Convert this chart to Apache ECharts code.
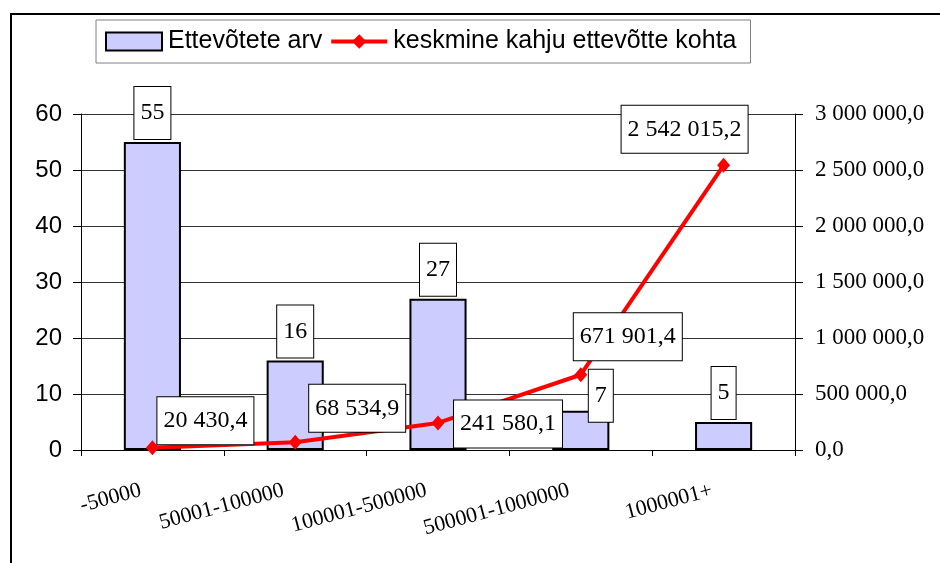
<!DOCTYPE html>
<html>
<head>
<meta charset="utf-8">
<script src="https://cdn.jsdelivr.net/npm/echarts@6/dist/echarts.min.js"></script>
<style>
html,body{margin:0;padding:0;background:#fff;}
#chart{width:940px;height:563px;}
</style>
</head>
<body>
<div id="chart"></div>
<script>
// ---- data ----
var categories = ['-50000', '50001-100000', '100001-500000', '500001-1000000', '1000001+'];
var companyCounts = [55, 16, 27, 7, 5];
var avgDamage = [20430.4, 68534.9, 241580.1, 671901.4, 2542015.2];
var leftTicks = { min: 0, max: 60, interval: 10 };
var rightTicks = { min: 0, max: 3000000, interval: 500000 };
var seriesNames = ['Ettevõtete arv', 'keskmine kahju ettevõtte kohta'];

// ---- styles (label placement offsets) ----
var lineLabelOffsets = [[53, -27], [62, -34], [70, 1], [47, -38], [-39, -36]];
var barLabelOffsets = [[0, 0], [0, 0], [0, 0], [20, 14], [0, 0]];

var SERIF = "'Liberation Serif', 'Times New Roman', serif";
var SANS = "'Liberation Sans', Arial, sans-serif";

function fmtNum(v) {
  var s = Number(v).toFixed(1);
  var parts = s.split('.');
  var intPart = parts[0].replace(/\B(?=(\d{3})+(?!\d))/g, ' ');
  return intPart + ',' + parts[1];
}

var chart = echarts.init(document.getElementById('chart'), null, { renderer: 'canvas' });

var lineData = avgDamage.map(function (v, i) {
  return { value: v, label: { offset: lineLabelOffsets[i] } };
});
var barData = companyCounts.map(function (v, i) {
  return { value: v, label: { offset: barLabelOffsets[i] } };
});

var option = {
  backgroundColor: '#ffffff',
  animation: false,
  graphic: [{
    type: 'polyline',
    shape: { points: [[11, 563], [11, 14], [940, 14]] },
    style: { stroke: '#000', lineWidth: 2, fill: null },
    silent: true
  }],
  legend: {
    left: 96,
    top: 20,
    padding: [9, 14, 9, 9],
    itemGap: 7,
    itemWidth: 56,
    itemHeight: 18,
    backgroundColor: '#fff',
    borderColor: '#808080',
    borderWidth: 1,
    textStyle: { fontFamily: SANS, fontSize: 25, color: '#000', padding: [0, 0, 0, 1] },
    data: [
      { name: seriesNames[0], icon: 'rect' },
      { name: seriesNames[1], lineStyle: { width: 4, color: '#FF0000' } }
    ]
  },
  grid: { left: 81, right: 145, top: 114, bottom: 113 },
  xAxis: {
    type: 'category',
    data: categories,
    boundaryGap: true,
    axisLine: { show: true, lineStyle: { color: '#000', width: 1 } },
    axisTick: { show: true, alignWithLabel: false, length: 6, lineStyle: { color: '#000' } },
    axisLabel: {
      interval: 0,
      rotate: 15,
      margin: 37,
      padding: [0, 12, 0, 0],
      fontFamily: SERIF,
      fontSize: 22,
      color: '#000'
    },
    splitLine: { show: false }
  },
  yAxis: [{
    type: 'value',
    min: leftTicks.min,
    max: leftTicks.max,
    interval: leftTicks.interval,
    position: 'left',
    axisLine: { show: true, lineStyle: { color: '#000', width: 1 } },
    axisTick: { show: true, length: 8, lineStyle: { color: '#000' } },
    axisLabel: { margin: 19, fontFamily: SANS, fontSize: 24, color: '#000' },
    splitLine: { show: true, lineStyle: { color: '#333', width: 1 } }
  }, {
    type: 'value',
    min: rightTicks.min,
    max: rightTicks.max,
    interval: rightTicks.interval,
    position: 'right',
    axisLine: { show: true, lineStyle: { color: '#000', width: 1 } },
    axisTick: { show: true, length: 8, lineStyle: { color: '#000' } },
    axisLabel: {
      margin: 20,
      fontFamily: SERIF,
      fontSize: 23,
      color: '#000',
      formatter: function (v) { return fmtNum(v); }
    },
    splitLine: { show: false }
  }],
  series: [{
    name: seriesNames[0],
    type: 'bar',
    yAxisIndex: 0,
    barWidth: '40%',
    data: barData,
    itemStyle: { color: '#CCCCFF', borderColor: '#000', borderWidth: 2 },
    label: {
      show: true,
      position: 'top',
      distance: 3,
      fontFamily: SERIF,
      fontSize: 24,
      lineHeight: 28,
      color: '#000',
      backgroundColor: '#fff',
      borderColor: '#000',
      borderWidth: 1,
      padding: [12, 6, 12, 6]
    },
    z: 2
  }, {
    name: seriesNames[1],
    type: 'line',
    yAxisIndex: 1,
    data: lineData,
    symbol: 'diamond',
    symbolSize: [13, 15],
    lineStyle: { color: '#FF0000', width: 4 },
    itemStyle: { color: '#FF0000' },
    label: {
      show: true,
      position: 'inside',
      fontFamily: SERIF,
      fontSize: 24,
      lineHeight: 27,
      color: '#000',
      backgroundColor: '#fff',
      borderColor: '#000',
      borderWidth: 1,
      padding: [10, 6, 10, 6],
      formatter: function (p) { return fmtNum(p.value); }
    },
    z: 3
  }]
};

chart.setOption(option);
</script>
</body>
</html>
